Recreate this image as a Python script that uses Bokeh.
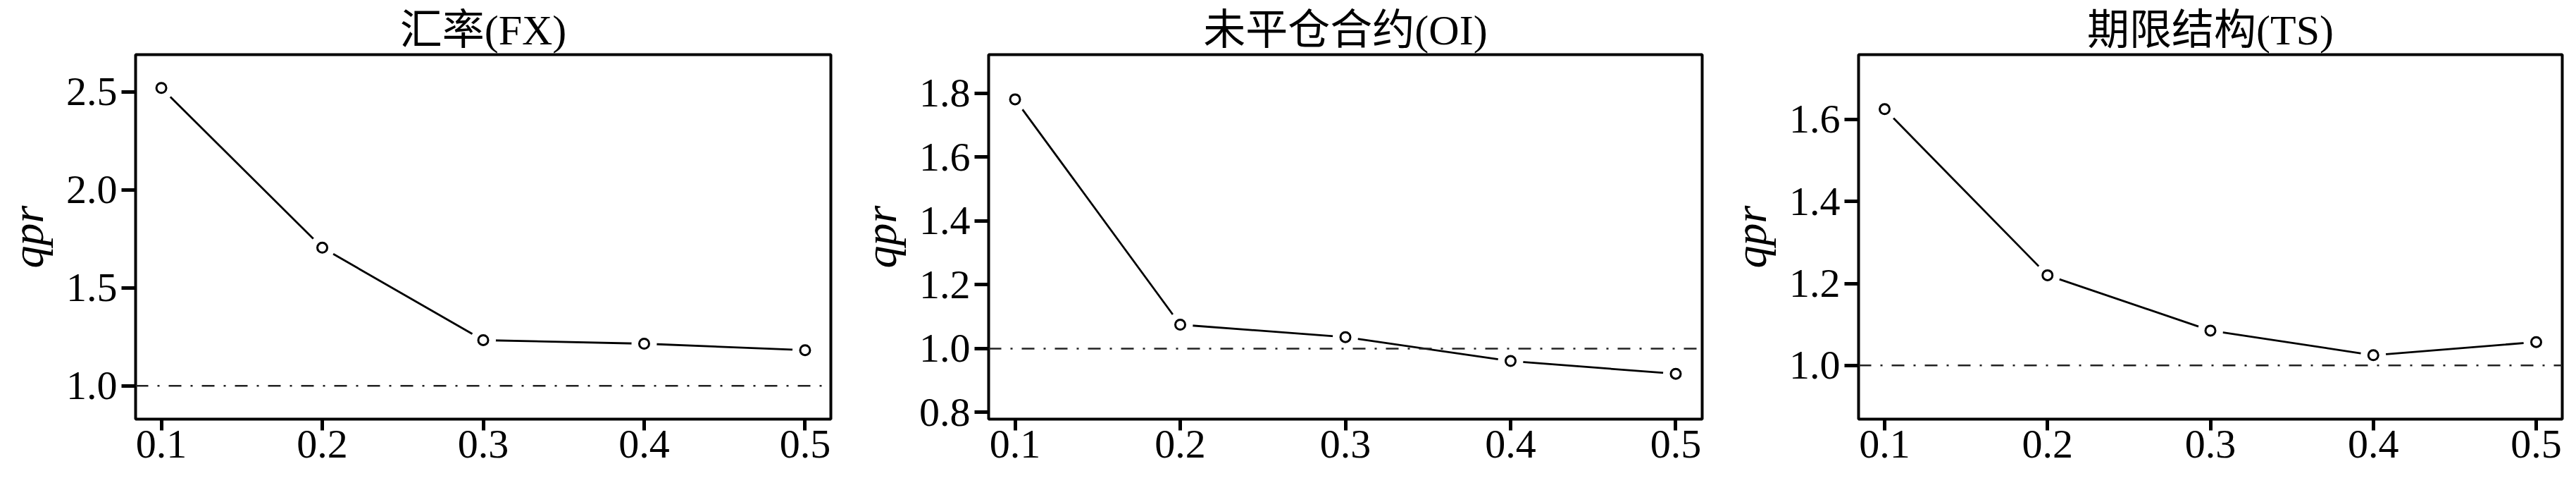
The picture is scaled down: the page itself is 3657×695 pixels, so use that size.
from bokeh.plotting import figure
from bokeh.layouts import row
from bokeh.models import Span, FixedTicker
from bokeh.embed import file_html
from bokeh.resources import INLINE

# ---- data ----
quantiles = [0.1, 0.2, 0.3, 0.4, 0.5]
x_tick_labels = ["0.1", "0.2", "0.3", "0.4", "0.5"]

titles = ["汇率(FX)", "未平仓合约(OI)", "期限结构(TS)"]

qpr_fx = [2.52, 1.705, 1.233, 1.215, 1.182]
qpr_oi = [1.781, 1.075, 1.036, 0.961, 0.921]
qpr_ts = [1.625, 1.220, 1.085, 1.025, 1.057]

y_ticks_fx = [1.0, 1.5, 2.0, 2.5]
y_ticks_oi = [0.8, 1.0, 1.2, 1.4, 1.6, 1.8]
y_ticks_ts = [1.0, 1.2, 1.4, 1.6]
y_tick_labels_fx = ["1.0", "1.5", "2.0", "2.5"]
y_tick_labels_oi = ["0.8", "1.0", "1.2", "1.4", "1.6", "1.8"]
y_tick_labels_ts = ["1.0", "1.2", "1.4", "1.6"]

y_range_fx = (0.83, 2.69)
y_range_oi = (0.779, 1.921)
y_range_ts = (0.869, 1.758)
x_range_all = (0.084, 0.516)

reference_level = 1.0

SERIF = "Liberation Serif, Noto Sans CJK SC"


def make_panel(title, values, yticks, ylabels, yrange, width, left, right):
    p = figure(
        width=width, height=679,
        x_range=x_range_all, y_range=yrange,
        output_backend="svg", toolbar_location=None,
        min_border_left=left, min_border_right=right,
        min_border_top=77, min_border_bottom=85,
        background_fill_color="white", border_fill_color="white",
        title=title,
    )
    p.title.text_font = SERIF
    p.title.text_font_size = "60px"
    p.title.text_font_style = "normal"
    p.title.align = "center"
    p.title.text_color = "black"
    p.title.standoff = 4

    p.grid.visible = False
    p.outline_line_color = "black"
    p.outline_line_width = 4

    # x axis
    xa = p.xaxis[0]
    xa.ticker = FixedTicker(ticks=quantiles)
    xa.major_label_overrides = {q: s for q, s in zip(quantiles, x_tick_labels)}
    # y axis
    ya = p.yaxis[0]
    ya.ticker = FixedTicker(ticks=yticks)
    ya.major_label_overrides = {t: s for t, s in zip(yticks, ylabels)}
    ya.axis_label = "qpr"
    ya.axis_label_text_font = SERIF
    ya.axis_label_text_font_style = "italic"
    ya.axis_label_text_font_size = "64px"
    ya.axis_label_text_color = "black"
    ya.axis_label_standoff = 16

    for ax in (xa, ya):
        ax.axis_line_color = None
        ax.major_tick_line_color = "black"
        ax.major_tick_line_width = 5
        ax.major_tick_in = 0
        ax.minor_tick_line_color = None
        ax.major_label_text_font = SERIF
        ax.major_label_text_font_size = "58px"
        ax.major_label_text_color = "black"
    xa.major_tick_out = 16
    xa.major_label_standoff = 0
    ya.major_tick_out = 20
    ya.major_label_standoff = 6

    # line with gaps around points (R type="b" style)
    p.line(quantiles, values, line_color="black", line_width=2.8)
    p.scatter(quantiles, values, size=36, fill_color="white", line_color=None)
    p.scatter(quantiles, values, size=14, fill_color="white",
              line_color="black", line_width=3)

    p.add_layout(Span(location=reference_level, dimension="width",
                      line_color="#222222", line_width=2.5,
                      line_dash="18 13 3 13"))
    return p


p1 = make_panel(titles[0], qpr_fx, y_ticks_fx, y_tick_labels_fx, y_range_fx, 1211, 191, 32)
p2 = make_panel(titles[1], qpr_oi, y_ticks_oi, y_tick_labels_oi, y_range_oi, 1235, 191, 30)
p3 = make_panel(titles[2], qpr_ts, y_ticks_ts, y_tick_labels_ts, y_range_ts, 1195, 191, 4)

layout = row(p1, p2, p3)
open("out.html", "w").write(file_html(layout, INLINE))
